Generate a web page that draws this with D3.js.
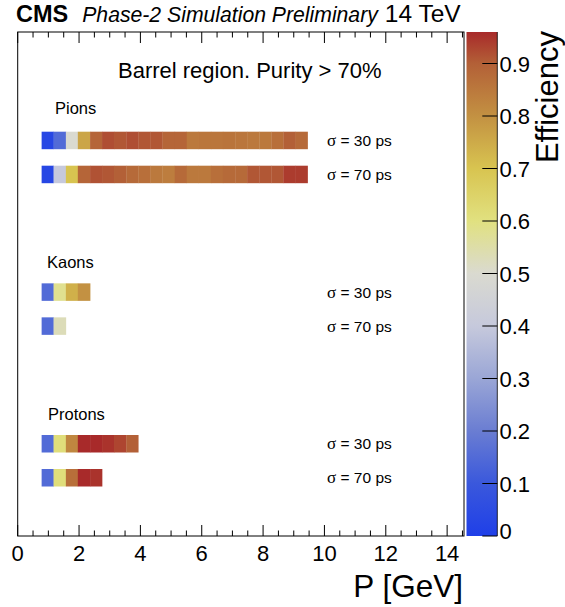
<!DOCTYPE html>
<meta charset="utf-8">
<head>
<style>
  body { margin: 0; background: #fff; }
  text { font-family: "Liberation Sans", Arial, Helvetica, sans-serif; fill: #000; }
  .sym { font-family: "Liberation Serif", "Times New Roman", serif; }
</style>
<script src="https://cdn.jsdelivr.net/npm/d3@7/dist/d3.min.js"></script>
</head>
<body>
<script>

// momentum bin edges (GeV)
var pEdges = [0.78, 1.17, 1.57, 1.96, 2.36, 2.75, 3.14, 3.54, 3.93, 4.33, 4.72, 5.12,
              5.51, 5.90, 6.30, 6.69, 7.09, 7.48, 7.88, 8.27, 8.66, 9.06, 9.45];

var particles = ["Pions", "Kaons", "Protons"];
var sigmas = ["30", "70"];

// efficiency per momentum bin
var effPion30 = [0.03, 0.15, 0.50, 0.76, 0.89, 0.92, 0.91, 0.92, 0.91, 0.91, 0.89,
                 0.89, 0.85, 0.855, 0.855, 0.86, 0.855, 0.85, 0.85, 0.87, 0.90, 0.88];
var effPion70 = [0.03, 0.40, 0.70, 0.89, 0.915, 0.91, 0.90, 0.88, 0.87, 0.85, 0.84,
                 0.88, 0.85, 0.85, 0.87, 0.88, 0.88, 0.91, 0.91, 0.91, 0.94, 0.94];
var effKaon30 = [0.15, 0.58, 0.74, 0.80];
var effKaon70 = [0.15, 0.53];
var effProton30 = [0.15, 0.61, 0.82, 0.96, 0.96, 0.95, 0.93, 0.90];
var effProton70 = [0.15, 0.61, 0.87, 0.96, 0.95];

var xTicks = [0, 2, 4, 6, 8, 10, 12, 14];
var zTicks = [0, 0.1, 0.2, 0.3, 0.4, 0.5, 0.6, 0.7, 0.8, 0.9];

// palette (blue - white - yellow - red)
var palStops = [0, 0.1, 0.2, 0.3, 0.4, 0.5, 0.6, 0.7, 0.8, 0.9, 0.96];
var palColors = ["#1f3fe8", "#3a58dc", "#6a7dd2", "#9aa6d6", "#c6c9dc", "#dadad0",
                 "#e1e180", "#d8c450", "#c39142", "#b36037", "#a82a2a"];

var eff = {
  Pions: { "30": effPion30, "70": effPion70 },
  Kaons: { "30": effKaon30, "70": effKaon70 },
  Protons: { "30": effProton30, "70": effProton70 }
};

var width = 565, height = 607;
var fLeft = 17.7, fRight = 464, fTop = 32, fBottom = 536;

var svg = d3.select("body").append("svg")
    .attr("width", width)
    .attr("height", height);

var x = d3.scaleLinear().domain([0, 14.55]).range([fLeft, fRight]);
var z = d3.scaleLinear().domain([0, 0.96]).range([fBottom, fTop]);
var color = d3.scaleLinear().domain(palStops).range(palColors).clamp(true);

var yGroup = d3.scalePoint().domain(particles).range([131.7, 435]);
var ySub = d3.scalePoint().domain(sigmas).range([0, 34]);
var rowH = 17.5;

// cells
particles.forEach(function(p) {
  sigmas.forEach(function(s) {
    var y0 = yGroup(p) + ySub(s);
    svg.append("g").selectAll("rect")
      .data(eff[p][s])
      .enter().append("rect")
        .attr("x", function(d, i) { return x(pEdges[i]); })
        .attr("width", function(d, i) { return x(pEdges[i + 1]) - x(pEdges[i]) + 0.3; })
        .attr("y", y0)
        .attr("height", rowH)
        .attr("fill", function(d) { return color(d); });

    var t = svg.append("text")
      .attr("x", 327)
      .attr("y", y0 + rowH / 2 + 5.5)
      .style("font-size", "15.5px");
    t.append("tspan").attr("class", "sym").style("font-size", "17px").text("\u03c3");
    t.append("tspan").text(" = " + s + " ps");
  });
});

// particle labels
var labelX = { Pions: 55, Kaons: 47, Protons: 48 };
svg.selectAll(".plabel")
  .data(particles)
  .enter().append("text")
    .attr("class", "plabel")
    .attr("x", function(d) { return labelX[d]; })
    .attr("y", function(d) { return yGroup(d) - (d == "Pions" ? 18 : 15.5); })
    .style("font-size", "16.5px")
    .text(function(d) { return d; });

svg.append("text")
  .attr("x", 118)
  .attr("y", 78)
  .style("font-size", "22px")
  .text("Barrel region. Purity > 70%");

// frame
svg.append("rect")
  .attr("x", fLeft).attr("y", fTop)
  .attr("width", fRight - fLeft).attr("height", fBottom - fTop)
  .attr("fill", "none")
  .attr("stroke", "#000")
  .attr("stroke-width", 1);

// x ticks bottom and top
var minor = d3.range(0, 14.51, 0.5);
minor.forEach(function(v) {
  var major = Math.abs(v / 2 - Math.round(v / 2)) < 1e-6;
  var len = major ? 11 : 5.5;
  svg.append("line")
    .attr("x1", x(v)).attr("x2", x(v))
    .attr("y1", fBottom).attr("y2", fBottom - len)
    .attr("stroke", "#000");
  svg.append("line")
    .attr("x1", x(v)).attr("x2", x(v))
    .attr("y1", fTop).attr("y2", fTop + len)
    .attr("stroke", "#000");
});

svg.selectAll(".xlab")
  .data(xTicks)
  .enter().append("text")
    .attr("class", "xlab")
    .attr("x", function(d) { return x(d); })
    .attr("y", 561)
    .attr("text-anchor", "middle")
    .style("font-size", "22px")
    .text(function(d) { return d; });

svg.append("text")
  .attr("x", 463)
  .attr("y", 597)
  .attr("text-anchor", "end")
  .style("font-size", "31.5px")
  .text("P [GeV]");

// colour bar
var cbX0 = 466.5, cbX1 = 497.3;
var grad = svg.append("defs").append("linearGradient")
  .attr("id", "pal")
  .attr("x1", "0").attr("y1", "1").attr("x2", "0").attr("y2", "0");
grad.selectAll("stop")
  .data(palStops)
  .enter().append("stop")
    .attr("offset", function(d) { return d / 0.96; })
    .attr("stop-color", function(d, i) { return palColors[i]; });

svg.append("rect")
  .attr("x", cbX0).attr("y", fTop)
  .attr("width", cbX1 - cbX0).attr("height", fBottom - fTop)
  .attr("fill", "url(#pal)");
svg.append("line")
  .attr("x1", cbX1).attr("x2", cbX1)
  .attr("y1", fTop).attr("y2", fBottom)
  .attr("stroke", "#000").attr("stroke-width", 0.8);

svg.selectAll(".ztick")
  .data(zTicks)
  .enter().append("line")
    .attr("x1", cbX1 - 15).attr("x2", cbX1)
    .attr("y1", function(d) { return z(d); })
    .attr("y2", function(d) { return z(d); })
    .attr("stroke", "#000");

svg.selectAll(".zlab")
  .data(zTicks)
  .enter().append("text")
    .attr("x", 499.5)
    .attr("y", function(d) { return d == 0 ? z(d) + 3 : z(d) + 8; })
    .style("font-size", "22px")
    .text(function(d) { return d == 0 ? "0" : d3.format(".1f")(d); });

svg.append("text")
  .attr("transform", "translate(558,31) rotate(-90)")
  .attr("text-anchor", "end")
  .style("font-size", "31px")
  .text("Efficiency");

// header
var hdr = svg.append("text").attr("x", 16).attr("y", 22);
hdr.append("tspan").style("font-weight", "bold").style("font-size", "23.5px").text("CMS");
hdr.append("tspan").attr("dx", 14).style("font-style", "italic").style("font-size", "21.2px")
  .text("Phase-2 Simulation Preliminary");
hdr.append("tspan").attr("dx", 7).style("font-size", "24.5px").text("14 TeV");

</script>
</body>
